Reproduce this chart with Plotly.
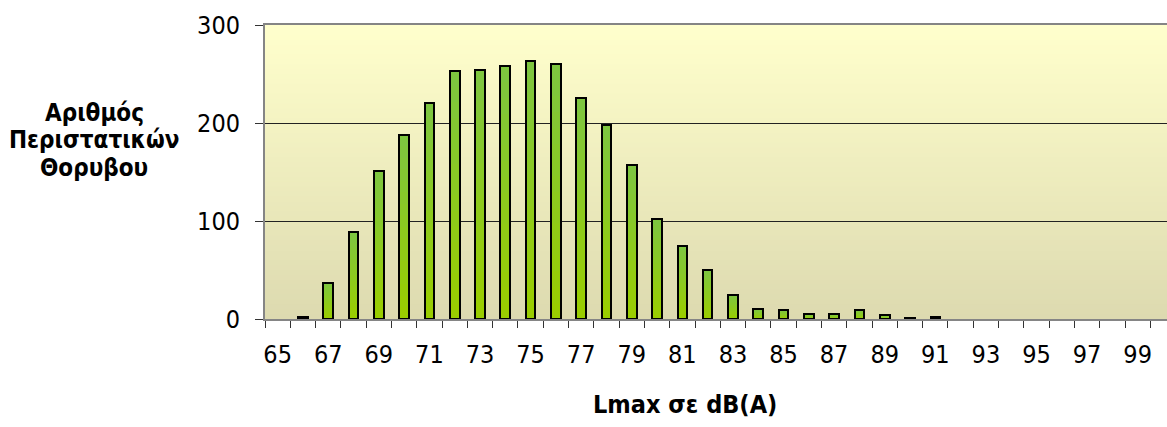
import plotly.graph_objects as go

# Data
categories = list(range(65, 101))
counts = [0, 2, 37, 89, 151, 188, 220, 253, 254, 258, 263, 260, 226, 198, 157,
          102, 74, 50, 24, 10, 9, 5, 5, 9, 4, 1, 2, 0, 0, 0, 0, 0, 0, 0, 0, 0]
tick_labels = [str(v) for v in range(65, 100, 2)]
y_ticks = [0, 100, 200, 300]
y_title_lines = ["Αριθμός", "Περιστατικών", "Θορυβου"]
x_title = "Lmax σε dB(A)"

FONT = "DejaVu Sans Condensed, Tahoma, DejaVu Sans, sans-serif"
BAR_W = 0.38

fig = go.Figure()

# bars drawn as vertical gradient (segments) + black outline
vals = [v if v > 0 else None for v in counts]
bar_top = (126, 198, 63)
bar_bot = (154, 205, 0)
nseg = 16
for k in range(nseg):
    t = k / (nseg - 1)
    c = tuple(round(bar_bot[j] + (bar_top[j] - bar_bot[j]) * t) for j in range(3))
    fig.add_trace(go.Bar(
        x=categories,
        y=[v / nseg if v else None for v in vals],
        base=[v * k / nseg if v else None for v in vals],
        width=BAR_W,
        marker=dict(color="rgb(%d,%d,%d)" % c, line=dict(width=0)),
        showlegend=False, hoverinfo="skip",
    ))
fig.add_trace(go.Bar(
    x=categories, y=vals, width=BAR_W,
    marker=dict(color="rgba(0,0,0,0)", line=dict(color="#000000", width=2)),
    showlegend=False, hoverinfo="x+y",
))

# gradient background stripes (slightly overlapping to avoid seams)
top = (255, 255, 204)
bot = (221, 218, 176)
n = 60
shapes = []
for i in range(n):
    t = i / (n - 1)
    c = tuple(round(bot[k] + (top[k] - bot[k]) * t) for k in range(3))
    shapes.append(dict(type="rect", xref="x domain", yref="y domain",
                       x0=0, x1=1, y0=i / n, y1=min(1.0, (i + 1.6) / n),
                       fillcolor="rgb(%d,%d,%d)" % c, line=dict(width=0),
                       layer="below"))

fig.update_layout(
    width=1167, height=427,
    margin=dict(l=265, r=0, t=25, b=108, autoexpand=False),
    paper_bgcolor="white", plot_bgcolor="rgba(0,0,0,0)",
    font=dict(family=FONT, size=25, color="black"),
    shapes=shapes,
    barmode="overlay",
    bargap=0,
    xaxis=dict(
        range=[64.5, 100.16], tickmode="array",
        tickvals=[int(t) for t in tick_labels], ticktext=tick_labels,
        ticks="", showgrid=False, zeroline=False, automargin=False,
        showline=True, linecolor="#858585", linewidth=2, mirror=True,
        ticklabelstandoff=12,
        minor=dict(tickmode="array", tickvals=[c - 0.5 for c in categories],
                   ticks="outside", ticklen=7, tickcolor="#333333", tickwidth=1,
                   showgrid=False),
    ),
    yaxis=dict(
        range=[0, 300], tickmode="array", tickvals=y_ticks,
        ticks="outside", ticklen=8, tickcolor="#333333", tickwidth=1,
        showgrid=True, gridcolor="#222222", gridwidth=1, zeroline=False,
        showline=True, linecolor="#858585", linewidth=2, automargin=False,
        ticklabelstandoff=10,
    ),
)

plot_w = 1167 - 265
plot_h = 427 - 25 - 108
for line, ypx in zip(y_title_lines, [113, 140, 168]):
    fig.add_annotation(text="<b>%s</b>" % line,
                       xref="paper", yref="paper",
                       x=(94 - 265) / plot_w, y=(427 - 108 - ypx) / plot_h,
                       xanchor="center", yanchor="middle", align="center",
                       showarrow=False, font=dict(size=24, family=FONT))
fig.add_annotation(text="<b>%s</b>" % x_title,
                   xref="paper", yref="paper",
                   x=(685 - 265) / plot_w, y=(427 - 108 - 404) / plot_h,
                   xanchor="center", yanchor="middle",
                   showarrow=False, font=dict(size=25, family=FONT))

fig.write_html("out.html", config={"displayModeBar": False},
               post_script="document.body.style.margin='0';document.body.style.overflow='hidden';")
